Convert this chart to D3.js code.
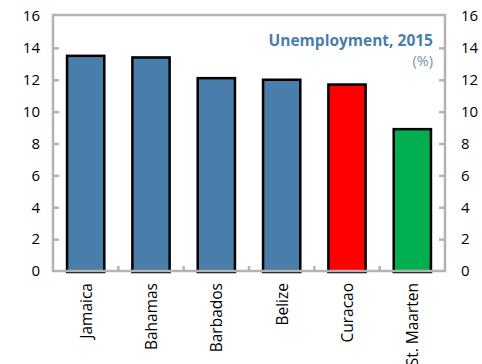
<!DOCTYPE html>
<html>
<head>
<meta charset="utf-8">
<script src="https://cdn.jsdelivr.net/npm/d3@7"></script>
<style>
  html, body { margin: 0; padding: 0; background: #fff; }
  svg { display: block; font-family: "Open Sans", sans-serif; }
</style>
</head>
<body>
<svg id="chart" width="482" height="364"></svg>
<script>
// Unemployment rate by country, 2015 (%)
const countries = ["Jamaica", "Bahamas", "Barbados", "Belize", "Curacao", "St. Maarten"];
const unemployment = [13.5, 13.4, 12.1, 12.0, 11.7, 8.9];
const barColors = ["#4a7eaa", "#4a7eaa", "#4a7eaa", "#4a7eaa", "#ff0000", "#00b050"];
const yTicks = [0, 2, 4, 6, 8, 10, 12, 14, 16];
const titleText = "Unemployment, 2015";
const unitText = "(%)";

const svg = d3.select("#chart");
const plot = { left: 53, right: 445, top: 16, bottom: 271 };
const fontFamily = "'Open Sans', sans-serif";

const x = d3.scaleBand()
  .domain(countries)
  .range([plot.left, plot.right])
  .paddingInner(0.43)
  .paddingOuter(0.215);

const y = d3.scaleLinear()
  .domain([0, 16])
  .range([plot.bottom, plot.top]);

const frameColor = "#b3b3b3";

// Bars
svg.append("g")
  .selectAll("rect")
  .data(countries)
  .join("rect")
  .attr("x", d => x(d))
  .attr("width", x.bandwidth())
  .attr("y", (d, i) => y(unemployment[i]))
  .attr("height", (d, i) => y(0) - y(unemployment[i]) + 1)
  .attr("fill", (d, i) => barColors[i])
  .attr("stroke", "#000")
  .attr("stroke-width", 2.5);

// Plot frame
svg.append("rect")
  .attr("x", plot.left)
  .attr("y", plot.top - 1)
  .attr("width", plot.right - plot.left)
  .attr("height", plot.bottom - plot.top + 1)
  .attr("fill", "none")
  .attr("stroke", frameColor)
  .attr("stroke-width", 2.5);

// Left axis
const leftAxis = svg.append("g")
  .attr("transform", `translate(${plot.left},0)`)
  .call(d3.axisLeft(y).tickValues(yTicks).tickSize(-6).tickPadding(13));
// Right axis
const rightAxis = svg.append("g")
  .attr("transform", `translate(${plot.right},0)`)
  .call(d3.axisRight(y).tickValues(yTicks).tickSize(-6).tickPadding(16));

[leftAxis, rightAxis].forEach(g => {
  g.select(".domain").remove();
  g.selectAll(".tick line").attr("stroke", frameColor).attr("stroke-width", 2.5);
  g.selectAll(".tick").filter(d => d === 0 || d === 16).select("line").remove();
  g.selectAll(".tick text").attr("font-size", 15).attr("fill", "#000")
    .attr("font-family", fontFamily);
});

// Category axis: ticks between bars, labels rotated
const step = x.step();
const boundaries = countries.slice(1).map(c => x(c) - (step - x.bandwidth()) / 2);
svg.append("g")
  .selectAll("line")
  .data(boundaries)
  .join("line")
  .attr("x1", d => d).attr("x2", d => d)
  .attr("y1", plot.bottom).attr("y2", plot.bottom - 5)
  .attr("stroke", frameColor)
  .attr("stroke-width", 2.5);

svg.append("g")
  .selectAll("text")
  .data(countries)
  .join("text")
  .attr("transform", d => `translate(${x(d) + x.bandwidth() / 2 + 6},${plot.bottom + 12}) rotate(-90)`)
  .attr("text-anchor", "end")
  .attr("font-size", 15.5)
  .attr("font-family", fontFamily)
  .attr("fill", "#000")
  .text(d => d);

// Series annotation
svg.append("text")
  .attr("x", 433).attr("y", 46)
  .attr("text-anchor", "end")
  .attr("font-size", 15.5)
  .attr("font-weight", "bold")
  .attr("font-family", fontFamily)
  .attr("fill", "#4a7eaa")
  .text(titleText);
svg.append("text")
  .attr("x", 433).attr("y", 66)
  .attr("text-anchor", "end")
  .attr("font-size", 14.5)
  .attr("font-family", fontFamily)
  .attr("fill", "#6a96c0")
  .text(unitText);
</script>
</body>
</html>
